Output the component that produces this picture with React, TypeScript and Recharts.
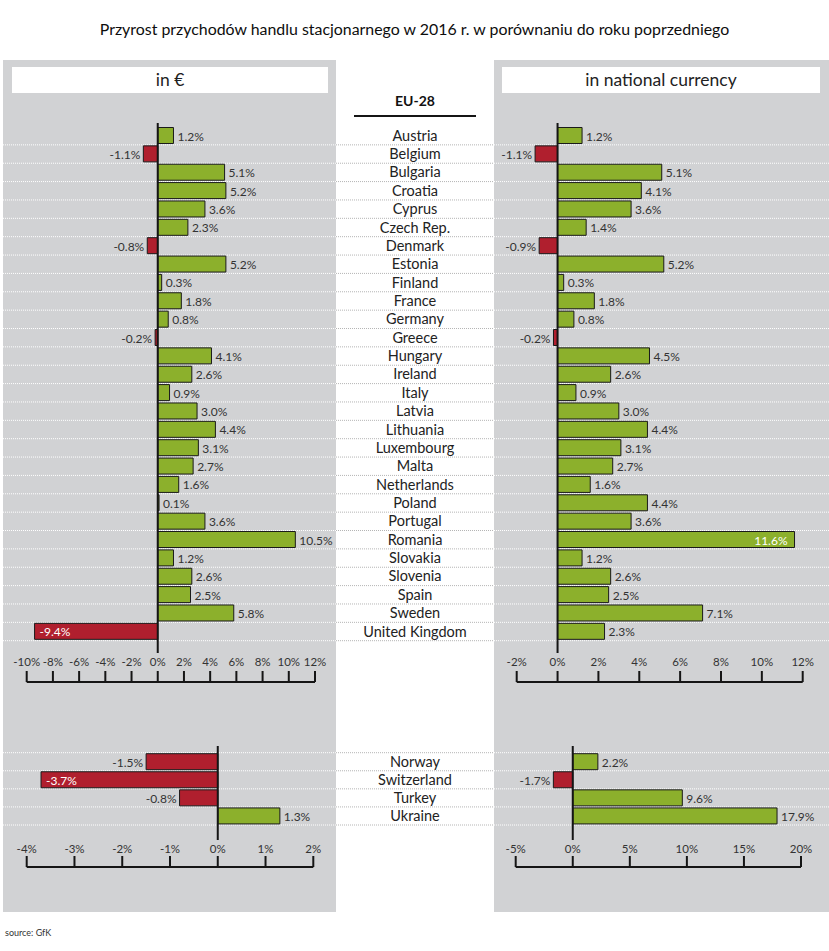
import React from 'react';
import {
  BarChart,
  Bar,
  XAxis,
  YAxis,
  CartesianGrid,
  ReferenceLine,
  LabelList,
  Cell,
} from 'recharts';

const FONT = 'Lato, "Open Sans", sans-serif';

// EU-28 countries, change vs 2015
const euCountries = [
  'Austria', 'Belgium', 'Bulgaria', 'Croatia', 'Cyprus', 'Czech Rep.', 'Denmark',
  'Estonia', 'Finland', 'France', 'Germany', 'Greece', 'Hungary', 'Ireland',
  'Italy', 'Latvia', 'Lithuania', 'Luxembourg', 'Malta', 'Netherlands', 'Poland',
  'Portugal', 'Romania', 'Slovakia', 'Slovenia', 'Spain', 'Sweden', 'United Kingdom',
];
const euInEuro = [
  1.2, -1.1, 5.1, 5.2, 3.6, 2.3, -0.8, 5.2, 0.3, 1.8, 0.8, -0.2, 4.1, 2.6,
  0.9, 3.0, 4.4, 3.1, 2.7, 1.6, 0.1, 3.6, 10.5, 1.2, 2.6, 2.5, 5.8, -9.4,
];
const euInNational = [
  1.2, -1.1, 5.1, 4.1, 3.6, 1.4, -0.9, 5.2, 0.3, 1.8, 0.8, -0.2, 4.5, 2.6,
  0.9, 3.0, 4.4, 3.1, 2.7, 1.6, 4.4, 3.6, 11.6, 1.2, 2.6, 2.5, 7.1, 2.3,
];

// non-EU countries
const otherCountries = ['Norway', 'Switzerland', 'Turkey', 'Ukraine'];
const otherInEuro = [-1.5, -3.7, -0.8, 1.3];
const otherInNational = [2.2, -1.7, 9.6, 17.9];

const euEuroTicks = [-10, -8, -6, -4, -2, 0, 2, 4, 6, 8, 10, 12];
const euNationalTicks = [-2, 0, 2, 4, 6, 8, 10, 12];
const otherEuroTicks = [-4, -3, -2, -1, 0, 1, 2];
const otherNationalTicks = [-5, 0, 5, 10, 15, 20];

const GREEN = '#8cb02c';
const RED = '#b01f2e';
const PANEL = '#d1d2d4';
const INK = '#151515';

type GridBand = { x: number; width: number; color: string };

interface PanelChartProps {
  categories: string[];
  values: number[];
  ticks: number[];
  left: number;
  top: number;
  width: number;
  height: number;
  margin: { top: number; right: number; bottom: number; left: number };
  yPadding: { top: number; bottom: number };
  axisHeight: number;
  labelColumn?: number; // width of the country name column (0 = none)
  labelCenter?: number;
  grids: GridBand[];
  topLine?: boolean;
}

// scale may be a plain d3 function or a wrapper with .map()
const applyScale = (scale: any, v: any): number =>
  typeof scale === 'function' ? scale(v) : scale.map(v);

// dotted separators below each row (and above the first one if asked)
const rowLines = (withTop: boolean) => ({ yAxis }: any) => {
  const scale = yAxis?.scale;
  if (!scale || typeof scale.bandwidth !== 'function') return [];
  const bw = scale.bandwidth();
  const cats: string[] = scale.domain();
  const lines = cats.map((c) => applyScale(scale, c) + bw);
  if (withTop && cats.length) lines.unshift(applyScale(scale, cats[0]));
  return lines.filter((v) => Number.isFinite(v));
};

const valueLabel = (ticks: number[]) => (props: any) => {
  const vb = props.viewBox ?? props;
  const x = Number(vb.x);
  const y = Number(vb.y);
  const w = Number(vb.width);
  const h = Number(vb.height);
  const v = Number(props.value);
  const lo = Math.min(x, x + w);
  const hi = Math.max(x, x + w);
  const cy = y + h / 2;
  const limit = v < 0 ? ticks[0] : ticks[ticks.length - 1];
  const inside = Math.abs(v / limit) > 0.9;
  const text = `${v.toFixed(1)}%`;
  let tx = v < 0 ? lo - 3 : hi + 4;
  let anchor: 'start' | 'end' = v < 0 ? 'end' : 'start';
  if (inside) {
    tx = v < 0 ? lo + 5 : hi - 7;
    anchor = v < 0 ? 'start' : 'end';
  }
  return (
    <text
      x={tx}
      y={cy + 5}
      textAnchor={anchor}
      fontSize={12}
      fontFamily={FONT}
      fill={inside ? '#ffffff' : '#333'}
    >
      {text}
    </text>
  );
};

// the lower axis only shows its line and tick marks
const NoLabel = () => <g />;

const PanelChart: React.FC<PanelChartProps> = ({
  categories, values, ticks, left, top, width, height, margin, yPadding,
  axisHeight, labelColumn = 0, labelCenter = 0, grids, topLine = false,
}) => {
  const data = categories.map((name, i) => ({ name, value: values[i] }));
  const domain: [number, number] = [ticks[0], ticks[ticks.length - 1]];

  const CountryTick = ({ y, payload }: any) => (
    <text
      x={labelCenter}
      y={y + 5}
      textAnchor="middle"
      fontSize={14.5}
      fontFamily={FONT}
      fill="#222"
    >
      {payload.value}
    </text>
  );

  return (
    <div style={{ position: 'absolute', left, top, width, height }}>
      <BarChart
        width={width}
        height={height}
        data={data}
        layout="vertical"
        margin={margin}
        barSize={16}
      >
        {grids.map((g, i) => (
          <CartesianGrid
            key={i}
            x={g.x}
            width={g.width}
            vertical={false}
            stroke={g.color}
            strokeDasharray="1 1"
            horizontalCoordinatesGenerator={rowLines(topLine)}
          />
        ))}
        <XAxis
          type="number"
          domain={domain}
          ticks={ticks}
          allowDataOverflow
          orientation="bottom"
          height={axisHeight}
          axisLine={false}
          tickLine={false}
          tickSize={0}
          tickMargin={5}
          interval={0}
          tick={{ fontSize: 11.5, fill: '#333', fontFamily: FONT }}
          tickFormatter={(v: number) => `${v}%`}
        />
        <XAxis
          xAxisId="base"
          type="number"
          domain={domain}
          ticks={ticks}
          allowDataOverflow
          orientation="bottom"
          height={10}
          axisLine={{ stroke: INK, strokeWidth: 2 }}
          tickLine={{ stroke: INK, strokeWidth: 2 }}
          tickSize={-11}
          interval={0}
          tick={<NoLabel />}
        />
        <YAxis
          type="category"
          dataKey="name"
          width={labelColumn}
          hide={labelColumn === 0}
          axisLine={false}
          tickLine={false}
          interval={0}
          padding={yPadding}
          tick={<CountryTick />}
        />
        <Bar
          dataKey="value"
          stroke="#1a1a1a"
          strokeWidth={1}
          isAnimationActive={false}
        >
          {data.map((d, i) => (
            <Cell key={i} fill={d.value < 0 ? RED : GREEN} />
          ))}
          <LabelList dataKey="value" content={valueLabel(ticks)} />
        </Bar>
        <ReferenceLine x={0} stroke={INK} strokeWidth={2} />
      </BarChart>
    </div>
  );
};

const App: React.FC = () => {
  return (
    <div
      style={{
        position: 'absolute',
        left: 0,
        top: 0,
        width: 829,
        height: 951,
        background: '#fff',
        fontFamily: FONT,
        overflow: 'hidden',
      }}
    >
      <div
        style={{
          position: 'absolute', left: 0, top: 19, width: 829, textAlign: 'center',
          fontSize: 15.9, color: '#0d0d0d',
        }}
      >
        Przyrost przychodów handlu stacjonarnego w 2016 r. w porównaniu do roku poprzedniego
      </div>

      {/* grey panels */}
      <div style={{ position: 'absolute', left: 3, top: 60, width: 333, height: 852, background: PANEL }} />
      <div style={{ position: 'absolute', left: 494, top: 60, width: 335, height: 852, background: PANEL }} />

      {/* panel headers */}
      <div
        style={{
          position: 'absolute', left: 12, top: 67, width: 316, height: 26, background: '#fff',
          textAlign: 'center', lineHeight: '26px', fontSize: 17.5, color: '#222',
        }}
      >
        in €
      </div>
      <div
        style={{
          position: 'absolute', left: 502, top: 67, width: 318, height: 26, background: '#fff',
          textAlign: 'center', lineHeight: '26px', fontSize: 17.5, color: '#222',
        }}
      >
        in national currency
      </div>

      <div
        style={{
          position: 'absolute', left: 354, top: 92, width: 122, textAlign: 'center',
          fontSize: 14, fontWeight: 700, color: '#111',
        }}
      >
        EU-28
      </div>
      <div style={{ position: 'absolute', left: 354, top: 115, width: 122, height: 2, background: INK }} />

      <PanelChart
        categories={euCountries}
        values={euInEuro}
        ticks={euEuroTicks}
        left={0}
        top={100}
        width={336}
        height={600}
        margin={{ top: 23, right: 21, bottom: 8, left: 26.7 }}
        yPadding={{ top: 3.5, bottom: 12.3 }}
        axisHeight={29}
        grids={[{ x: 3, width: 333, color: '#ffffff' }]}
      />
      <PanelChart
        categories={euCountries}
        values={euInNational}
        ticks={euNationalTicks}
        left={336}
        top={100}
        width={493}
        height={600}
        margin={{ top: 23, right: 26.3, bottom: 8, left: 0 }}
        yPadding={{ top: 3.5, bottom: 12.3 }}
        axisHeight={29}
        labelColumn={180.7}
        labelCenter={79}
        grids={[
          { x: 0, width: 158, color: '#b5b5b5' },
          { x: 158, width: 335, color: '#ffffff' },
        ]}
      />
      <PanelChart
        categories={otherCountries}
        values={otherInEuro}
        ticks={otherEuroTicks}
        left={0}
        top={720}
        width={336}
        height={165}
        margin={{ top: 26, right: 22.7, bottom: 8, left: 26.7 }}
        yPadding={{ top: 6.7, bottom: 15 }}
        axisHeight={27}
        grids={[{ x: 3, width: 333, color: '#ffffff' }]}
        topLine
      />
      <PanelChart
        categories={otherCountries}
        values={otherInNational}
        ticks={otherNationalTicks}
        left={336}
        top={720}
        width={493}
        height={165}
        margin={{ top: 26, right: 28, bottom: 8, left: 0 }}
        yPadding={{ top: 6.7, bottom: 15 }}
        axisHeight={27}
        labelColumn={179.7}
        labelCenter={79}
        grids={[
          { x: 0, width: 158, color: '#b5b5b5' },
          { x: 158, width: 335, color: '#ffffff' },
        ]}
        topLine
      />

      <div style={{ position: 'absolute', left: 5, top: 927, fontSize: 9, color: '#333' }}>
        source: GfK
      </div>
    </div>
  );
};

export default App;
